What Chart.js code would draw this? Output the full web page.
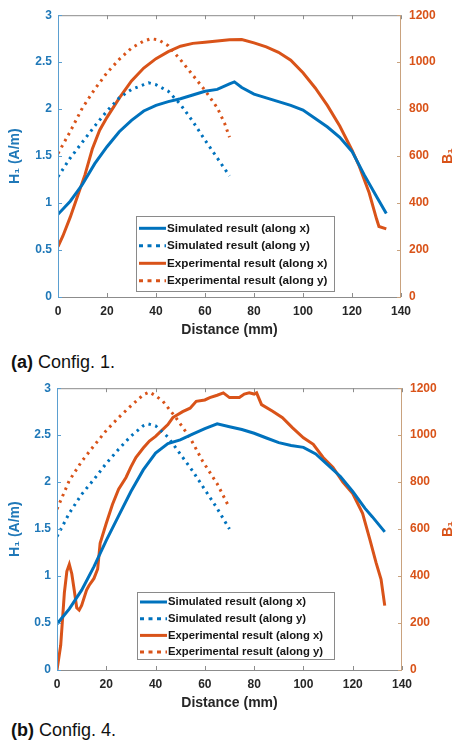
<!DOCTYPE html>
<html>
<head>
<meta charset="utf-8">
<title>H1 / B1 along x and y</title>
<script src="https://cdn.jsdelivr.net/npm/chart.js@4.4.1/dist/chart.umd.min.js"></script>
<style>
    body { margin: 0; background: #fff; width: 462px; height: 748px; position: relative; overflow: hidden;
           font-family: "Liberation Sans", Arial, Helvetica, sans-serif; }
    .plot { position: absolute; left: 0; width: 462px; height: 345px; }
    .caption { position: absolute; left: 11px; font-size: 18px; line-height: 20px; color: #111; white-space: nowrap; }
</style>
</head>
<body>
<div class="plot" style="top:0px"><canvas id="chartConfig1" width="462" height="345"></canvas></div>
<div class="caption" style="top:352px"><b>(a)</b> Config. 1.</div>
<div class="plot" style="top:373px"><canvas id="chartConfig4" width="462" height="345"></canvas></div>
<div class="caption" style="top:720px"><b>(b)</b> Config. 4.</div>

<script>
// Axis ticks
const distanceTicks = [0, 20, 40, 60, 80, 100, 120, 140];
const h1Ticks = [0, 0.5, 1, 1.5, 2, 2.5, 3];
const b1Ticks = [0, 200, 400, 600, 800, 1000, 1200];

const seriesLabels = [
    "Simulated result (along x)",
    "Simulated result (along y)",
    "Experimental result (along x)",
    "Experimental result (along y)"
];

// ---- Config. 1 ----
const c1SimXDist = [0, 5, 10, 15, 20, 25, 30, 35, 40, 45, 50, 55, 60, 65, 70, 72, 75, 80, 85, 90, 95, 100, 105, 110, 115, 120, 125, 130, 134];
const c1SimXH1 = [0.88, 1.02, 1.2, 1.42, 1.6, 1.76, 1.88, 1.98, 2.04, 2.08, 2.11, 2.15, 2.19, 2.21, 2.27, 2.29, 2.23, 2.16, 2.12, 2.08, 2.04, 1.99, 1.9, 1.81, 1.7, 1.55, 1.3, 1.07, 0.89];

const c1SimYDist = [0, 5, 10, 15, 20, 25, 30, 35, 37, 40, 45, 50, 55, 60, 65, 70];
const c1SimYH1 = [1.28, 1.48, 1.65, 1.82, 1.98, 2.12, 2.21, 2.26, 2.28, 2.26, 2.19, 2.05, 1.87, 1.67, 1.48, 1.29];

const c1ExpXDist = [0, 2, 5, 8, 11, 14, 17, 20, 25, 30, 35, 40, 45, 50, 55, 60, 65, 70, 75, 80, 85, 90, 95, 100, 105, 110, 115, 120, 123, 127, 130, 131, 134];
const c1ExpXB1 = [215, 260, 340, 430, 520, 630, 710, 765, 847, 920, 975, 1015, 1045, 1068, 1080, 1085, 1090, 1095, 1096, 1082, 1065, 1042, 1008, 955, 890, 815, 728, 625, 556, 444, 333, 300, 290];

const c1ExpYDist = [0, 5, 10, 15, 20, 25, 30, 35, 38, 41, 45, 50, 55, 60, 65, 68, 70];
const c1ExpYB1 = [611, 705, 806, 885, 955, 1012, 1060, 1090, 1100, 1095, 1070, 1010, 945, 880, 806, 740, 680];

// ---- Config. 4 ----
const c4SimXDist = [0, 5, 10, 15, 20, 25, 30, 35, 40, 45, 50, 55, 60, 65, 70, 75, 80, 85, 90, 95, 100, 105, 110, 115, 120, 125, 128, 133];
const c4SimXH1 = [0.49, 0.65, 0.85, 1.1, 1.38, 1.64, 1.9, 2.13, 2.31, 2.41, 2.45, 2.51, 2.57, 2.62, 2.59, 2.56, 2.52, 2.47, 2.42, 2.39, 2.37, 2.3, 2.18, 2.06, 1.9, 1.72, 1.63, 1.47];

const c4SimYDist = [0, 5, 10, 15, 20, 25, 30, 35, 37, 40, 45, 50, 55, 60, 65, 70];
const c4SimYH1 = [1.42, 1.67, 1.87, 2.03, 2.2, 2.35, 2.49, 2.6, 2.62, 2.6, 2.48, 2.3, 2.12, 1.92, 1.72, 1.5];

const c4ExpXDist = [0, 1.5, 3, 4, 5, 6, 7, 8, 9, 10, 12, 13, 15, 16.5, 17.5, 20, 22.5, 25, 28, 30, 32, 35, 37.5, 40, 42, 45, 47, 51, 54, 56.5, 60, 62, 65, 67.5, 70, 74, 76, 78, 80, 81, 83, 87.5, 91.5, 95.5, 100, 104, 108, 112, 116, 120, 124, 127, 129.5, 131.5, 133];
const c4ExpXB1 = [0, 105, 330, 420, 450, 410, 340, 265, 255, 275, 340, 360, 390, 430, 540, 625, 705, 770, 820, 865, 905, 945, 975, 995, 1015, 1045, 1075, 1100, 1115, 1144, 1150, 1160, 1170, 1180, 1160, 1160, 1175, 1180, 1175, 1180, 1130, 1102, 1074, 1032, 989, 961, 905, 863, 800, 751, 667, 554, 456, 386, 274];

const c4ExpYDist = [0, 5, 10, 15, 20, 25, 30, 35, 37.5, 40, 43, 48, 54, 59, 65, 70];
const c4ExpYB1 = [685, 807, 888, 955, 1020, 1075, 1125, 1172, 1183, 1168, 1144, 1078, 989, 891, 793, 690];

document.addEventListener("DOMContentLoaded", () => {
    const BLUE = "#0072BD";
    const ORANGE = "#D95319";
    const FONT = '"Liberation Sans", Arial, Helvetica, sans-serif';

    function toPoints(xs, ys) {
        return xs.map((x, i) => ({ x: x, y: ys[i] }));
    }

    // frame, inward tick marks and right-hand title (MATLAB style box)
    const framePlugin = {
        id: "matFrame",
        afterDatasetsDraw(chart) {
            const ctx = chart.ctx;
            const a = chart.chartArea;
            const sx = chart.scales.x, sy = chart.scales.y, sy1 = chart.scales.y1;
            ctx.save();
            ctx.lineWidth = 1;

            ctx.strokeStyle = "#8c8c8c";
            ctx.beginPath();
            ctx.moveTo(a.left, a.top + 0.5); ctx.lineTo(a.right, a.top + 0.5);
            ctx.moveTo(a.left, a.bottom + 0.5); ctx.lineTo(a.right, a.bottom + 0.5);
            distanceTicks.forEach(v => {
                const px = Math.round(sx.getPixelForValue(v)) + 0.5;
                ctx.moveTo(px, a.bottom); ctx.lineTo(px, a.bottom - 4);
                ctx.moveTo(px, a.top); ctx.lineTo(px, a.top + 4);
            });
            ctx.stroke();

            ctx.strokeStyle = "#5b9fd0";
            ctx.beginPath();
            ctx.moveTo(a.left + 0.5, a.top); ctx.lineTo(a.left + 0.5, a.bottom + 1);
            h1Ticks.forEach(v => {
                const py = Math.round(sy.getPixelForValue(v)) + 0.5;
                ctx.moveTo(a.left, py); ctx.lineTo(a.left + 4, py);
            });
            ctx.stroke();

            ctx.strokeStyle = "#c9a27e";
            ctx.beginPath();
            ctx.moveTo(a.right - 0.5, a.top); ctx.lineTo(a.right - 0.5, a.bottom + 1);
            b1Ticks.forEach(v => {
                const py = Math.round(sy1.getPixelForValue(v)) + 0.5;
                ctx.moveTo(a.right, py); ctx.lineTo(a.right - 4, py);
            });
            ctx.stroke();

            // right axis title, read bottom-to-top like the left one
            ctx.translate(448, (a.top + a.bottom) / 2);
            ctx.rotate(-Math.PI / 2);
            ctx.fillStyle = ORANGE;
            ctx.font = "bold 14px " + FONT;
            ctx.textAlign = "center";
            ctx.textBaseline = "middle";
            ctx.fillText("B\u2081", 0, 0);
            ctx.restore();
        }
    };

    // boxed legend inside the plot
    const boxLegendPlugin = {
        id: "boxLegend",
        afterDraw(chart, args, opts) {
            const ctx = chart.ctx;
            ctx.save();
            ctx.fillStyle = "#fff";
            ctx.fillRect(opts.x, opts.y, opts.w, opts.h);
            ctx.strokeStyle = "#8a8a8a";
            ctx.lineWidth = 1;
            ctx.strokeRect(opts.x + 0.5, opts.y + 0.5, opts.w, opts.h);
            chart.data.datasets.forEach((ds, i) => {
                const cy = opts.y + opts.firstRow + i * opts.rowH;
                ctx.beginPath();
                ctx.setLineDash(ds.borderDash && ds.borderDash.length ? [4, 4.5] : []);
                ctx.strokeStyle = ds.borderColor;
                ctx.lineWidth = 3;
                ctx.moveTo(opts.x + 3, cy);
                ctx.lineTo(opts.x + 30, cy);
                ctx.stroke();
                ctx.setLineDash([]);
                ctx.fillStyle = "#161616";
                ctx.font = "bold " + opts.fontSize + "px " + FONT;
                ctx.textBaseline = "middle";
                ctx.fillText(ds.label, opts.x + 31, cy);
            });
            ctx.restore();
        }
    };

    function buildChart(canvasId, series, frame, legendBox) {
        const ctx = document.getElementById(canvasId).getContext("2d");
        const datasets = series.map((s, i) => ({
            label: seriesLabels[i],
            data: toPoints(s.dist, s.vals),
            yAxisID: s.axis,
            borderColor: s.color,
            borderWidth: 3,
            borderDash: s.dotted ? [2.5, 4.5] : [],
            borderCapStyle: "butt",
            pointRadius: 0,
            tension: 0,
            fill: false
        }));

        return new Chart(ctx, {
            type: "line",
            data: { datasets: datasets },
            plugins: [framePlugin, boxLegendPlugin],
            options: {
                responsive: false,
                animation: false,
                devicePixelRatio: 1,
                layout: { padding: { top: 12, left: 0, right: 0, bottom: 0 } },
                plugins: {
                    legend: { display: false },
                    tooltip: { enabled: false },
                    boxLegend: legendBox
                },
                scales: {
                    x: {
                        type: "linear",
                        min: 0, max: 140,
                        afterBuildTicks: s => { s.ticks = distanceTicks.map(v => ({ value: v })); },
                        afterFit: s => { s.height = 48; },
                        grid: { display: false, drawTicks: false },
                        border: { display: false },
                        ticks: { color: "#262626", padding: 7, maxRotation: 0, font: { family: FONT, size: 12, weight: "bold" },
                                 callback: v => String(v) },
                        title: { display: true, text: "Distance (mm)", color: "#262626", padding: { top: 0, bottom: 6 },
                                 font: { family: FONT, size: 14, weight: "bold" } }
                    },
                    y: {
                        position: "left",
                        min: 0, max: 3,
                        afterBuildTicks: s => { s.ticks = h1Ticks.map(v => ({ value: v })); },
                        afterFit: s => { s.width = frame.left; },
                        grid: { display: false, drawTicks: false },
                        border: { display: false },
                        ticks: { color: "#1f78b8", padding: 6, font: { family: FONT, size: 12, weight: "bold" },
                                 callback: v => String(v) },
                        title: { display: true, text: "H\u2081 (A/m)", color: "#1f78b8", padding: { top: 7, bottom: 0 },
                                 font: { family: FONT, size: 14, weight: "bold" } }
                    },
                    y1: {
                        position: "right",
                        min: 0, max: 1200,
                        afterBuildTicks: s => { s.ticks = b1Ticks.map(v => ({ value: v })); },
                        afterFit: s => { s.width = 462 - frame.right; },
                        grid: { display: false, drawTicks: false },
                        border: { display: false },
                        ticks: { color: ORANGE, padding: 8, font: { family: FONT, size: 12, weight: "bold" },
                                 callback: v => String(v) }
                    }
                }
            }
        });
    }

    buildChart("chartConfig1", [
        { dist: c1SimXDist, vals: c1SimXH1, axis: "y", color: BLUE, dotted: false },
        { dist: c1SimYDist, vals: c1SimYH1, axis: "y", color: BLUE, dotted: true },
        { dist: c1ExpXDist, vals: c1ExpXB1, axis: "y1", color: ORANGE, dotted: false },
        { dist: c1ExpYDist, vals: c1ExpYB1, axis: "y1", color: ORANGE, dotted: true }
    ], { left: 58, right: 401 }, { x: 136, y: 216, w: 198, h: 75, firstRow: 12.3, rowH: 17.5, fontSize: 11.7 });

    buildChart("chartConfig4", [
        { dist: c4SimXDist, vals: c4SimXH1, axis: "y", color: BLUE, dotted: false },
        { dist: c4SimYDist, vals: c4SimYH1, axis: "y", color: BLUE, dotted: true },
        { dist: c4ExpXDist, vals: c4ExpXB1, axis: "y1", color: ORANGE, dotted: false },
        { dist: c4ExpYDist, vals: c4ExpYB1, axis: "y1", color: ORANGE, dotted: true }
    ], { left: 57, right: 402 }, { x: 137, y: 219, w: 197, h: 67, firstRow: 10, rowH: 16.7, fontSize: 11.3 });
});
</script>
</body>
</html>
